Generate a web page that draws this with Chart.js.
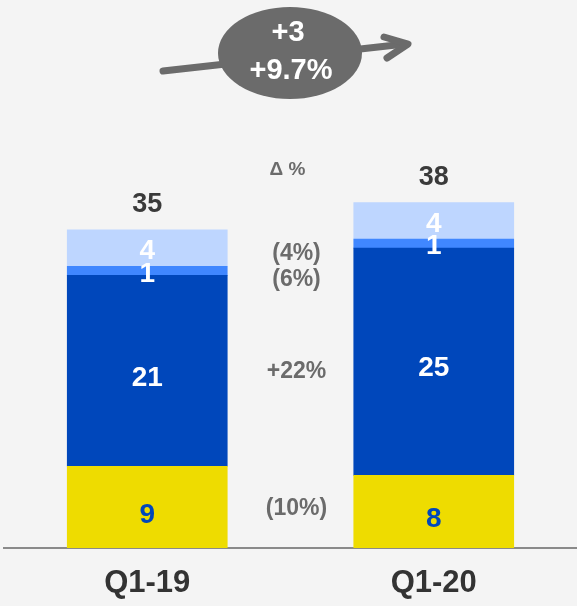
<!DOCTYPE html>
<html>
<head>
<meta charset="utf-8">
<script src="https://cdn.jsdelivr.net/npm/chart.js@4"></script>
<style>
  body { margin: 0; background: #f4f4f4; }
  #chart { display: block; }
</style>
</head>
<body>
<canvas id="chart" width="577" height="606"></canvas>
<script>
const categories = ["Q1-19", "Q1-20"];
const bottomValues = [9, 8];
const mainValues = [21, 25];
const smallValues = [1, 1];
const topValues = [4, 4];
const totals = [35, 38];
// growth labels in the gap between the bars, with the value height they sit at
const deltaLabels = ["(4%)", "(6%)", "+22%", "(10%)"];
const deltaLevels = [32.4, 29.5, 19.4, 4.3];
const bubbleLines = ["+3", "+9.7%"];

const FONT = "'Liberation Sans', Arial, sans-serif";

const labelPlugin = {
    id: "labels",
    beforeDraw(chart) {
        const ctx = chart.ctx;
        ctx.save();
        // arrow
        ctx.strokeStyle = "#6b6b6b";
        ctx.lineWidth = 7;
        ctx.lineCap = "round";
        ctx.lineJoin = "round";
        ctx.beginPath();
        ctx.moveTo(163, 71);
        ctx.lineTo(405, 44);
        ctx.stroke();
        ctx.beginPath();
        ctx.moveTo(384, 37);
        ctx.lineTo(408, 44);
        ctx.lineTo(387, 58);
        ctx.stroke();
        // bubble
        ctx.fillStyle = "#6b6b6b";
        ctx.beginPath();
        ctx.ellipse(290, 53, 72, 46, 0, 0, Math.PI * 2);
        ctx.fill();
        ctx.fillStyle = "#ffffff";
        ctx.font = "bold 29px " + FONT;
        ctx.textAlign = "center";
        ctx.textBaseline = "middle";
        ctx.fillText(bubbleLines[0], 288, 33);
        ctx.fillText(bubbleLines[1], 291, 71);
        ctx.restore();
    },
    afterDatasetsDraw(chart) {
        const ctx = chart.ctx;
        const y = chart.scales.y;
        ctx.save();
        ctx.textAlign = "center";
        ctx.textBaseline = "middle";
        chart.data.datasets.forEach((ds, di) => {
            const meta = chart.getDatasetMeta(di);
            meta.data.forEach((bar, i) => {
                ctx.fillStyle = ds.labelColor;
                ctx.font = "bold 28px " + FONT;
                ctx.fillText(String(ds.data[i]), bar.x, (bar.y + bar.base) / 2 + ds.labelShift);
            });
        });
        // totals
        const lastMeta = chart.getDatasetMeta(chart.data.datasets.length - 1);
        ctx.fillStyle = "#3a3a3a";
        ctx.font = "bold 27px " + FONT;
        totals.forEach((t, i) => {
            ctx.fillText(String(t), lastMeta.data[i].x, y.getPixelForValue(t) - 25);
        });
        // deltas
        const midX = (lastMeta.data[0].x + lastMeta.data[1].x) / 2 + 6;
        ctx.fillStyle = "#6b6b6b";
        ctx.font = "bold 23px " + FONT;
        deltaLabels.forEach((d, i) => {
            ctx.fillText(d, midX, y.getPixelForValue(deltaLevels[i]));
        });
        ctx.font = "bold 19px " + FONT;
        ctx.fillText("\u0394 %", midX - 9, y.getPixelForValue(41.6));
        ctx.restore();
    }
};

new Chart("chart", {
    type: "bar",
    data: {
        labels: categories,
        datasets: [
            { data: bottomValues, backgroundColor: "#eedc00", labelColor: "#0047bb", labelShift: 8 },
            { data: mainValues, backgroundColor: "#0047bb", labelColor: "#ffffff", labelShift: 7 },
            { data: smallValues, backgroundColor: "#4087ff", labelColor: "#ffffff", labelShift: 3 },
            { data: topValues, backgroundColor: "#bed6ff", labelColor: "#ffffff", labelShift: 3 }
        ]
    },
    options: {
        responsive: false,
        animation: false,
        layout: { padding: { left: 4, right: 0, top: 0, bottom: 0 } },
        datasets: { bar: { barThickness: 160, borderWidth: 0 } },
        plugins: { legend: { display: false }, tooltip: { enabled: false } },
        scales: {
            x: {
                stacked: true,
                grid: { display: false, drawTicks: false },
                border: { color: "#8a8a8a", width: 2 },
                ticks: { color: "#333333", padding: 17, font: { family: FONT, size: 31, weight: "bold" } },
                afterFit(scale) { scale.height = 58; }
            },
            y: {
                stacked: true,
                display: false,
                min: 0,
                max: 60.3
            }
        }
    },
    plugins: [labelPlugin]
});
</script>
</body>
</html>
